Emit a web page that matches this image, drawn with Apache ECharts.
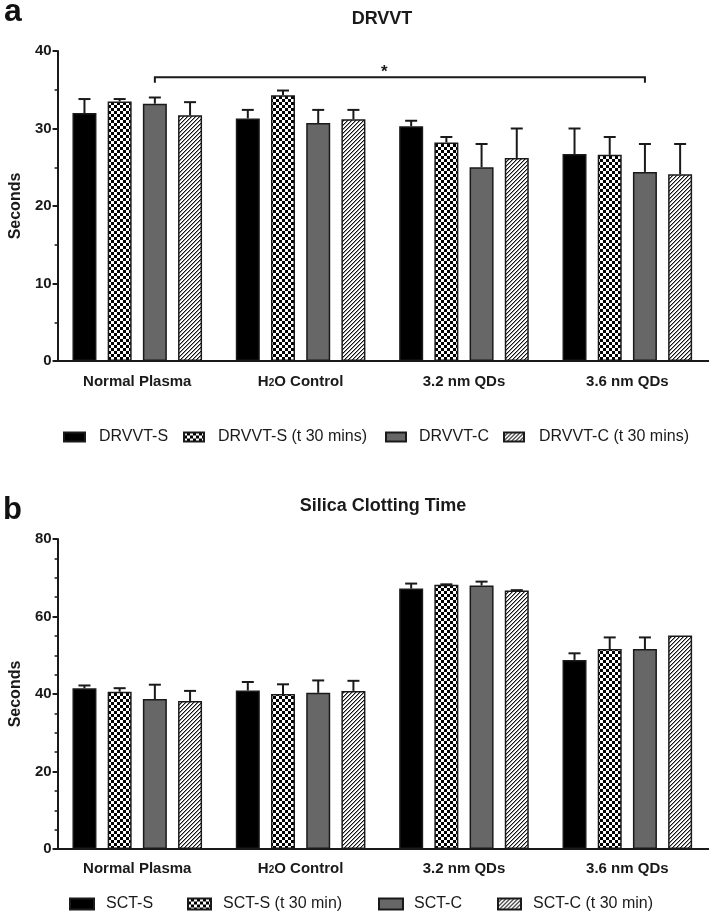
<!DOCTYPE html>
<html>
<head>
<meta charset="utf-8">
<style>html,body{margin:0;padding:0;background:#fff;}#c{width:709px;height:915px;}</style>
<script src="https://cdn.jsdelivr.net/npm/echarts@6/dist/echarts.min.js"></script>
</head>
<body>
<div id="c"></div>
<script>
// ---- data ----
const categories = ['Normal Plasma', 'H2O Control', '3.2 nm QDs', '3.6 nm QDs'];

const drvvtNames = ['DRVVT-S', 'DRVVT-S (t 30 mins)', 'DRVVT-C', 'DRVVT-C (t 30 mins)'];
const drvvtS      = [32.0, 31.3, 30.3, 26.7];
const drvvtSErr   = [1.8, 1.1, 0.7, 3.3];
const drvvtS30    = [33.5, 34.3, 28.2, 26.6];
const drvvtS30Err = [0.3, 0.6, 0.7, 2.3];
const drvvtC      = [33.2, 30.7, 25.0, 24.4];
const drvvtCErr   = [0.8, 1.7, 3.0, 3.6];
const drvvtC30    = [31.7, 31.2, 26.2, 24.1];
const drvvtC30Err = [1.7, 1.2, 3.8, 3.9];

const sctNames = ['SCT-S', 'SCT-S (t 30 min)', 'SCT-C', 'SCT-C (t 30 min)'];
const sctS      = [41.5, 40.9, 67.2, 48.8];
const sctSErr   = [0.7, 2.2, 1.3, 1.7];
const sctS30    = [40.6, 40.0, 68.2, 51.6];
const sctS30Err = [0.9, 2.5, 0.1, 3.0];
const sctC      = [38.7, 40.3, 68.0, 51.6];
const sctCErr   = [3.7, 3.2, 1.0, 3.0];
const sctC30    = [38.2, 40.8, 66.7, 55.1];
const sctC30Err = [2.6, 2.6, 0.1, 0.0];

// significance bracket (panel a): from category 0 / bar 2 to category 3 / bar 2
const bracket = { fromCat: 0, fromBar: 2, toCat: 3, toBar: 2, y: 36.6, drop: 35.9, label: '*' };

// ---- styling ----
const FONT = 'Liberation Sans, Arial, sans-serif';
const BAR_W = 24;
const GAP_PX = 11.2;
const STEP = BAR_W + GAP_PX;

function checker() {
  const c = document.createElement('canvas'); c.width = 6; c.height = 6;
  const g = c.getContext('2d');
  g.fillStyle = '#000'; g.fillRect(0, 0, 6, 6);
  g.fillStyle = '#fff'; g.fillRect(0, 0, 3, 3); g.fillRect(3, 3, 3, 3);
  return { image: c, repeat: 'repeat' };
}
function hatch() {
  const c = document.createElement('canvas'); c.width = 4; c.height = 4;
  const g = c.getContext('2d');
  g.fillStyle = '#fff'; g.fillRect(0, 0, 4, 4);
  g.fillStyle = '#111';
  for (let i = 0; i < 4; i++) g.fillRect(i, 3 - i, 1, 1);
  g.fillStyle = '#9a9a9a';
  for (let i = 0; i < 4; i++) g.fillRect((i + 1) % 4, 3 - i, 1, 1);
  return { image: c, repeat: 'repeat' };
}
const fills = ['#000000', checker(), '#676767', hatch()];

const catLabel = {
  fontFamily: FONT, fontWeight: 'bold', fontSize: 15, color: '#1a1a1a',
  interval: 0,
  formatter: v => v === 'H2O Control' ? '{b|H}{s|2}{b|O Control}' : '{b|' + v + '}',
  rich: {
    b: { fontFamily: FONT, fontWeight: 'bold', fontSize: 15, color: '#1a1a1a' },
    s: { fontFamily: FONT, fontWeight: 'bold', fontSize: 10, color: '#1a1a1a', padding: [4, 0, 0, 0] }
  }
};

function xAxis(gi, margin) {
  return {
    type: 'category', gridIndex: gi, data: categories,
    axisLine: { lineStyle: { color: '#1a1a1a', width: 2 } },
    axisTick: { alignWithLabel: true, length: 5, lineStyle: { color: '#1a1a1a', width: 2 } },
    axisLabel: Object.assign({ margin: margin }, catLabel)
  };
}
function yAxis(gi, max, interval, minorSplit) {
  return {
    type: 'value', gridIndex: gi, min: 0, max: max, interval: interval, offset: -2,
    name: 'Seconds', nameLocation: 'middle', nameGap: 33,
    nameTextStyle: { fontFamily: FONT, fontWeight: 'bold', fontSize: 16, color: '#1a1a1a' },
    axisLine: { show: true, lineStyle: { color: '#1a1a1a', width: 2 } },
    axisTick: { show: true, length: 5, lineStyle: { color: '#1a1a1a', width: 2 } },
    minorTick: { show: true, splitNumber: minorSplit, length: 3, lineStyle: { color: '#1a1a1a', width: 1.5 } },
    splitLine: { show: false },
    axisLabel: { fontFamily: FONT, fontWeight: 'bold', fontSize: 15, color: '#1a1a1a', margin: 6 }
  };
}

function barSeries(name, values, idx, gi) {
  return {
    type: 'bar', name: name, xAxisIndex: gi, yAxisIndex: gi, data: values,
    barWidth: BAR_W, barGap: (GAP_PX / BAR_W * 100) + '%',
    itemStyle: { color: fills[idx], borderColor: '#1a1a1a', borderWidth: 1.5 },
    emphasis: { disabled: true }, z: 2
  };
}

function errSeries(valsList, errList, gi) {
  const data = [];
  valsList.forEach((vals, s) => vals.forEach((v, c) => data.push([c, v, errList[s][c], s])));
  return {
    type: 'custom', xAxisIndex: gi, yAxisIndex: gi, data: data, z: 3, silent: true,
    renderItem: function (params, api) {
      const c = api.value(0), v = api.value(1), e = api.value(2), s = api.value(3);
      if (!(e > 0.05)) return null;
      const p0 = api.coord([c, v]);
      const p1 = api.coord([c, v + e]);
      const x = p0[0] + (s - 1.5) * STEP;
      const st = { stroke: '#1a1a1a', lineWidth: 2 };
      return {
        type: 'group', children: [
          { type: 'line', shape: { x1: x, y1: p0[1], x2: x, y2: p1[1] }, style: st },
          { type: 'line', shape: { x1: x - 6, y1: p1[1], x2: x + 6, y2: p1[1] }, style: st }
        ]
      };
    }
  };
}

function bracketSeries(b, gi) {
  return {
    type: 'custom', xAxisIndex: gi, yAxisIndex: gi, data: [[b.fromCat, b.toCat, b.y, b.drop]], z: 4, silent: true,
    renderItem: function (params, api) {
      const a = api.coord([api.value(0), api.value(2)]);
      const z = api.coord([api.value(1), api.value(2)]);
      const d = api.coord([api.value(0), api.value(3)]);
      const x1 = a[0] + (b.fromBar - 1.5) * STEP;
      const x2 = z[0] + (b.toBar - 1.5) * STEP;
      const mid = api.coord([1, api.value(2)])[0] / 2 + api.coord([2, api.value(2)])[0] / 2;
      return {
        type: 'group', children: [
          { type: 'polyline', shape: { points: [[x1, d[1]], [x1, a[1]], [x2, a[1]], [x2, d[1]]] },
            style: { stroke: '#1a1a1a', lineWidth: 2, fill: null } },
          { type: 'text', x: mid + 2, y: a[1] + 3,
            style: { text: b.label, align: 'center', verticalAlign: 'bottom', font: 'bold 17px ' + FONT, fill: '#1a1a1a' } }
        ]
      };
    }
  };
}

function legendItem(name, left, top, w, h, padLeft) {
  return {
    data: [name], left: left, top: top, padding: 0, itemWidth: w, itemHeight: h, icon: 'rect',
    selectedMode: false,
    textStyle: { fontFamily: FONT, fontSize: 16, color: '#1a1a1a', padding: [0, 0, 0, padLeft], lineHeight: 16 }
  };
}

const option = {
  backgroundColor: '#fff',
  animation: false,
  grid: [
    { left: 55, top: 51, width: 654, height: 310, containLabel: false },
    { left: 55, top: 539, width: 654, height: 310, containLabel: false }
  ],
  xAxis: [xAxis(0, 13), xAxis(1, 12)],
  yAxis: [yAxis(0, 40, 10, 2), yAxis(1, 80, 20, 4)],
  legend: [
    legendItem(drvvtNames[0], 63, 429, 21, 9, 9),
    legendItem(drvvtNames[1], 183, 429, 20, 9, 9),
    legendItem(drvvtNames[2], 385, 429, 20, 9, 8),
    legendItem(drvvtNames[3], 503, 429, 20, 9, 10),
    legendItem(sctNames[0], 69, 896, 24, 11, 7),
    legendItem(sctNames[1], 187, 896, 23, 11, 7),
    legendItem(sctNames[2], 378, 896, 24, 11, 6),
    legendItem(sctNames[3], 497, 896, 23, 11, 7)
  ],
  graphic: [
    { type: 'text', x: 4, y: -4, style: { text: 'a', font: 'bold 32px ' + FONT, fill: '#111' } },
    { type: 'text', x: 382, y: 19, style: { text: 'DRVVT', align: 'center', verticalAlign: 'middle', font: 'bold 18px ' + FONT, fill: '#1a1a1a' } },
    { type: 'text', x: 3, y: 495, style: { text: 'b', font: 'bold 31px ' + FONT, fill: '#111' } },
    { type: 'text', x: 383, y: 506, style: { text: 'Silica Clotting Time', align: 'center', verticalAlign: 'middle', font: 'bold 18px ' + FONT, fill: '#1a1a1a' } }
  ],
  series: [
    barSeries(drvvtNames[0], drvvtS, 0, 0),
    barSeries(drvvtNames[1], drvvtS30, 1, 0),
    barSeries(drvvtNames[2], drvvtC, 2, 0),
    barSeries(drvvtNames[3], drvvtC30, 3, 0),
    errSeries([drvvtS, drvvtS30, drvvtC, drvvtC30], [drvvtSErr, drvvtS30Err, drvvtCErr, drvvtC30Err], 0),
    bracketSeries(bracket, 0),
    barSeries(sctNames[0], sctS, 0, 1),
    barSeries(sctNames[1], sctS30, 1, 1),
    barSeries(sctNames[2], sctC, 2, 1),
    barSeries(sctNames[3], sctC30, 3, 1),
    errSeries([sctS, sctS30, sctC, sctC30], [sctSErr, sctS30Err, sctCErr, sctC30Err], 1)
  ]
};

const chart = echarts.init(document.getElementById('c'), null, { renderer: 'canvas' });
chart.setOption(option);
</script>
</body>
</html>
